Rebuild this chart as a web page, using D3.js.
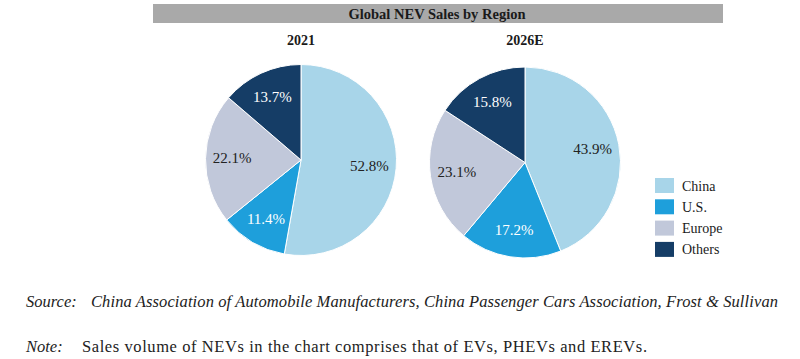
<!DOCTYPE html>
<html>
<head>
<meta charset="utf-8">
<script src="https://cdn.jsdelivr.net/npm/d3@7"></script>
<style>
  html, body { margin: 0; padding: 0; background: #fff; }
  svg { display: block; }
</style>
</head>
<body>
<svg id="chart" width="800" height="359"></svg>
<script>
// Global NEV sales by region — two pies + legend

const regions = ['China', 'U.S.', 'Europe', 'Others'];
const years   = ['2021', '2026E'];
const share2021  = [52.8, 11.4, 22.1, 13.7];
const share2026E = [43.9, 17.2, 23.1, 15.8];

const colors     = ['#a8d5e9', '#1e9fdb', '#c1c8da', '#153d66'];
const textColors = ['#222', '#fff', '#222', '#fff'];

const serif = '"Liberation Serif", "DejaVu Serif", serif';

const svg = d3.select('#chart');

// ─── Title bar ──────────────────────────────────────────────────────────────
svg.append('rect')
  .attr('x', 153).attr('y', 4)
  .attr('width', 570).attr('height', 19)
  .attr('fill', '#a9a9a9');

svg.append('text')
  .attr('x', 437).attr('y', 18.5)
  .attr('text-anchor', 'middle')
  .attr('font-family', serif)
  .attr('font-weight', 'bold')
  .attr('font-size', 14.5)
  .attr('fill', '#1a1a1a')
  .text('Global NEV Sales by Region');

// ─── Pies ───────────────────────────────────────────────────────────────────
const R = 95.5;
const pie = d3.pie().sort(null).value(d => d.value);
const arc = d3.arc().innerRadius(0).outerRadius(R);
const labelArc = d3.arc().innerRadius(R * 0.72).outerRadius(R * 0.72);

const pies = [
  { year: years[0], values: share2021,  cx: 301, cy: 160 },
  { year: years[1], values: share2026E, cx: 525, cy: 162.5 },
];

pies.forEach(p => {
  svg.append('text')
    .attr('x', p.cx).attr('y', 45)
    .attr('text-anchor', 'middle')
    .attr('font-family', serif)
    .attr('font-weight', 'bold')
    .attr('font-size', 14)
    .attr('fill', '#1a1a1a')
    .text(p.year);

  const g = svg.append('g').attr('transform', `translate(${p.cx},${p.cy})`);
  const data = pie(regions.map((r, i) => ({ region: r, value: p.values[i], i })));

  g.selectAll('path')
    .data(data)
    .join('path')
    .attr('d', arc)
    .attr('fill', d => colors[d.data.i])
    .attr('stroke', '#fff')
    .attr('stroke-width', 1);

  g.selectAll('text')
    .data(data)
    .join('text')
    .attr('transform', d => `translate(${labelArc.centroid(d)})`)
    .attr('text-anchor', 'middle')
    .attr('dy', '0.3em')
    .attr('font-family', serif)
    .attr('font-size', 15)
    .attr('fill', d => textColors[d.data.i])
    .text(d => d3.format('.1f')(d.data.value) + '%');
});

// ─── Legend ─────────────────────────────────────────────────────────────────
const legend = svg.append('g').attr('transform', 'translate(655,178)');
const item = legend.selectAll('g')
  .data(regions)
  .join('g')
  .attr('transform', (d, i) => `translate(0,${i * 21.3})`);

item.append('rect')
  .attr('width', 19).attr('height', 15)
  .attr('fill', (d, i) => colors[i]);

item.append('text')
  .attr('x', 27).attr('y', 12.5)
  .attr('font-family', serif)
  .attr('font-size', 14)
  .attr('fill', '#1a1a1a')
  .text(d => d);

// ─── Footnotes ──────────────────────────────────────────────────────────────
const foot = (x, y, str, italic, len) => {
  const t = svg.append('text')
    .attr('x', x).attr('y', y)
    .attr('font-family', serif)
    .attr('font-style', italic ? 'italic' : 'normal')
    .attr('font-size', 16.5)
    .attr('fill', '#222')
    .text(str);
  if (len) t.attr('textLength', len).attr('lengthAdjust', 'spacing');
  return t;
};

foot(26, 307, 'Source:', true);
foot(91, 307, 'China Association of Automobile Manufacturers, China Passenger Cars Association, Frost & Sullivan', true, 687);
foot(26, 352, 'Note:', true);
foot(82, 352, 'Sales volume of NEVs in the chart comprises that of EVs, PHEVs and EREVs.', false, 565);
</script>
</body>
</html>
